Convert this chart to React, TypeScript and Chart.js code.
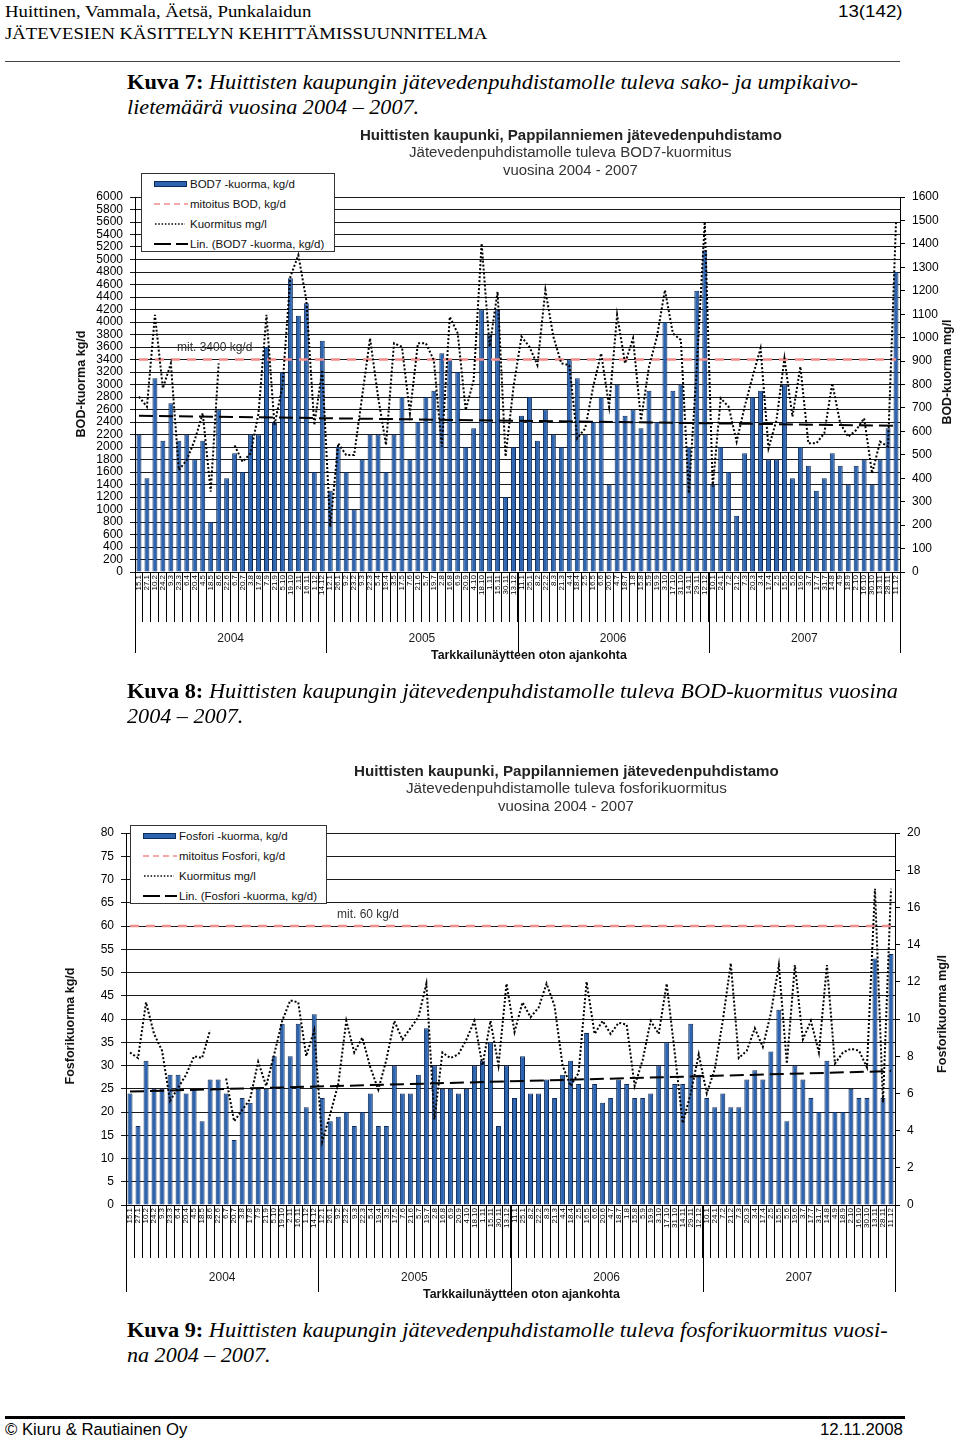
import React, { useEffect, useLayoutEffect, useRef } from 'react';
import { Chart, registerables } from 'chart.js';

Chart.register(...registerables);

// ---------------- data ----------------
const YEARS = ['2004', '2005', '2006', '2007'];
const SAMPLES_PER_YEAR = [24, 24, 24, 24];

const DATES_2004 = ['15.1', '27.1', '10.2', '24.2', '9.3', '23.3', '6.4', '20.4', '4.5', '18.5', '8.6', '22.6', '6.7', '20.7', '3.8', '17.8', '7.9', '21.9', '5.10', '19.10', '2.11', '16.11', '1.12', '14.12'];
const DATES_2005 = ['12.1', '26.1', '9.2', '23.2', '9.3', '22.3', '5.4', '19.4', '3.5', '17.5', '7.6', '21.6', '5.7', '19.7', '2.8', '16.8', '6.9', '20.9', '4.10', '18.10', '1.11', '15.11', '30.11', '13.12'];
const DATES_2006 = ['11.1', '25.1', '8.2', '22.2', '8.3', '21.3', '4.4', '18.4', '2.5', '16.5', '6.6', '20.6', '4.7', '18.7', '1.8', '15.8', '5.9', '19.9', '3.10', '17.10', '31.10', '14.11', '29.11', '12.12'];
const DATES_2007 = ['10.1', '24.1', '7.2', '21.2', '7.3', '20.3', '3.4', '17.4', '2.5', '15.5', '5.6', '19.6', '3.7', '17.7', '31.7', '14.8', '4.9', '18.9', '2.10', '16.10', '30.10', '13.11', '28.11', '11.12'];
const SAMPLE_DATES = [...DATES_2004, ...DATES_2005, ...DATES_2006, ...DATES_2007];

// BOD7 load kg/d
const BOD_LOAD = [
  2200, 1500, 3100, 2100, 2700, 2100, 2200, 1800, 2100, 800, 2600, 1500, 1900, 1600, 2200, 2200, 3600, 2400, 3200, 4700, 4100, 4300, 1600, 3700,
  1300, 2000, 1600, 1000, 1800, 2200, 2200, 1600, 2200, 2800, 1800, 2400, 2800, 2900, 3500, 3400, 3200, 2000, 2300, 4200, 3800, 4200, 1200, 2000,
  2500, 2800, 2100, 2600, 2200, 2000, 3400, 3100, 2200, 2400, 2800, 1400, 3000, 2500, 2600, 2300, 2900, 2400, 4000, 2900, 3000, 2000, 4500, 5150,
  1400, 2000, 1600, 900, 1900, 2800, 2900, 1800, 1800, 3000, 1500, 2000, 1700, 1300, 1500, 1900, 1700, 1400, 1700, 1800, 1400, 1800, 2300, 4800,
];
// BOD concentration mg/l
const BOD_CONC = [
  748, 705, 1097, 784, 890, 435, 478, 563, 677, 343, 890, null, 540, 470, 506, 677, 1097, 627, 791, 1260, 1352, 1160, 627, 862,
  193, 549, 499, 499, 748, 997, 748, 542, 976, 961, 677, 976, 976, 904, 535, 1089, 1018, 691, 819, 1402, 961, 1196, 492, 790,
  1004, 961, 883, 1203, 1004, 890, 883, 570, 613, 791, 933, 705, 1097, 890, 997, 648, 876, 1004, 1203, 1018, 990, 336, 876, 1495,
  364, 741, 705, 556, 705, 833, 954, 528, 648, 912, 663, 876, 549, 549, 592, 805, 634, 577, 606, 656, 421, 556, 535, 1495,
];
const BOD_LIMIT = 3400;
const BOD_TREND_START = 2500;
const BOD_TREND_END = 2340;

// Phosphorus load kg/d
const P_LOAD = [
  24, 17, 31, 25, 25, 28, 28, 24, 25, 18, 27, 27, 24, 14, 23, 22, 25, 25, 32, 39, 32, 39, 21, 41,
  23, 18, 19, 20, 17, 20, 24, 17, 17, 30, 24, 24, 28, 38, 30, 25, 25, 24, 25, 30, 31, 35, 17, 30,
  23, 32, 24, 24, 27, 23, 28, 31, 26, 37, 26, 22, 23, 27, 26, 23, 23, 24, 30, 35, 26, 26, 39, 28,
  23, 21, 24, 21, 21, 27, 29, 27, 33, 42, 18, 30, 27, 23, 20, 31, 20, 20, 25, 23, 23, 53, 23, 54,
];
// Phosphorus concentration mg/l
const P_CONC = [
  8.2, 7.9, 10.9, 9.2, 8.3, 5.6, 6.3, 7.0, 8.0, 7.9, 9.4, null, 6.8, 4.5, 5.1, 5.7, 7.7, 6.4, 8.1, 9.9, 11.0, 10.9, 8.0, 9.4,
  3.4, 4.9, 6.5, 9.9, 8.2, 9.0, 7.4, 6.2, 7.8, 9.9, 8.9, 9.5, 10.1, 11.9, 4.6, 8.2, 7.9, 8.1, 8.9, 9.9, 7.5, 9.9, 7.5, 11.9,
  9.3, 10.9, 10.1, 10.6, 11.9, 10.7, 7.5, 6.4, 7.1, 12.0, 9.2, 9.9, 9.2, 9.8, 9.7, 6.4, 7.8, 9.9, 9.2, 11.9, 8.2, 4.4, 6.0, 8.1,
  6.0, 7.3, 9.9, 13.0, 7.9, 8.3, 9.5, 8.5, 10.3, 12.9, 7.6, 12.9, 8.9, 9.9, 8.2, 12.9, 7.6, 8.2, 8.4, 8.3, 7.4, 17.0, 5.5, 17.0,
];
const P_LIMIT = 60;
const P_TREND_START = 24.4;
const P_TREND_END = 28.8;

// ---------------- styles ----------------
const SANS = '"Liberation Sans", Arial, sans-serif';
const SERIF = '"Liberation Serif", "Times New Roman", serif';
const CHART_FONT = 'Liberation Sans';
const BAR_FILL = '#2d64b0';
const BAR_EDGE = '#0e2b5a';
const LIMIT_COLOR = '#ef8c8c';
const GRID = '#1a1a1a';

// ---------------- plugin: year row + limit label ----------------
const yearAxisPlugin = {
  id: 'yearAxis',
  afterDraw(chart: any, _args: any, opts: any) {
    const { ctx, chartArea } = chart;
    const xs = chart.scales.x;
    const ys = chart.scales.y;
    const half = (xs.getPixelForValue(1) - xs.getPixelForValue(0)) / 2;
    const bottom = chartArea.bottom;
    ctx.save();
    ctx.strokeStyle = '#000';
    ctx.lineWidth = 1;
    const vline = (px: number) => {
      const xx = Math.round(px) + 0.5;
      ctx.beginPath();
      ctx.moveTo(xx, bottom);
      ctx.lineTo(xx, bottom + opts.lineLen);
      ctx.stroke();
    };
    ctx.font = `12px "${CHART_FONT}"`;
    ctx.fillStyle = '#1a1a1a';
    ctx.textAlign = 'center';
    ctx.textBaseline = 'middle';
    let idx = 0;
    vline(xs.getPixelForValue(0) - half);
    opts.years.forEach((yr: string, k: number) => {
      const start = idx;
      const end = idx + opts.counts[k] - 1;
      const x0 = xs.getPixelForValue(start) - half;
      const x1 = xs.getPixelForValue(end) + half;
      vline(x1);
      ctx.fillText(yr, (x0 + x1) / 2, bottom + opts.textOffset);
      idx += opts.counts[k];
    });
    ctx.textAlign = 'left';
    ctx.fillStyle = '#333';
    ctx.fillText(opts.limitText, chartArea.left + opts.limitDx, ys.getPixelForValue(opts.limitValue) - opts.limitDy);
    ctx.restore();
  },
};

type ChartParams = {
  load: number[];
  conc: (number | null)[];
  limit: number;
  trendStart: number;
  trendEnd: number;
  yMax: number;
  yStep: number;
  y2Max: number;
  y2Step: number;
  area: { left: number; right: number; top: number; bottom: number };
  canvasW: number;
  canvasH: number;
  catTick: number;
  yearLine: number;
  yearText: number;
  limitText: string;
  limitDx: number;
  limitDy: number;
  loadLabel: string;
  limitLabel: string;
  trendLabel: string;
};

function buildConfig(p: ChartParams): any {
  const labels = SAMPLE_DATES;
  const last = labels.length - 1;
  const trend = labels.map((_, i) => (i === 0 ? p.trendStart : i === last ? p.trendEnd : null));
  const limitLine = labels.map(() => p.limit);
  const tickFont = { family: CHART_FONT, size: 12 };
  return {
    type: 'bar',
    data: {
      labels,
      datasets: [
        { type: 'line', label: p.trendLabel, data: trend, yAxisID: 'y', borderColor: '#000', borderWidth: 2, borderDash: [14, 6], pointRadius: 0, spanGaps: true, order: 1 },
        { type: 'line', label: 'Kuormitus mg/l', data: p.conc, yAxisID: 'y2', borderColor: '#000', borderWidth: 2, borderDash: [2, 2], pointRadius: 0, spanGaps: false, tension: 0, order: 2 },
        { type: 'line', label: p.limitLabel, data: limitLine, yAxisID: 'y', borderColor: LIMIT_COLOR, borderWidth: 2.5, borderDash: [9, 7], pointRadius: 0, order: 3 },
        { type: 'bar', label: p.loadLabel, data: p.load, yAxisID: 'y', backgroundColor: BAR_FILL, borderColor: BAR_EDGE, borderWidth: 1, categoryPercentage: 1, barPercentage: 0.62, order: 4 },
      ],
    },
    options: {
      responsive: false,
      animation: false,
      layout: { padding: { top: p.area.top, left: 0, right: 0, bottom: 0 } },
      plugins: {
        legend: { display: false },
        tooltip: { enabled: false },
        yearAxis: {
          years: YEARS,
          counts: SAMPLES_PER_YEAR,
          lineLen: p.yearLine,
          textOffset: p.yearText,
          limitText: p.limitText,
          limitValue: p.limit,
          limitDx: p.limitDx,
          limitDy: p.limitDy,
        },
      },
      scales: {
        x: {
          type: 'category',
          offset: true,
          grid: { offset: true, drawOnChartArea: false, color: '#000', tickLength: p.catTick, lineWidth: 1 },
          border: { color: '#000' },
          ticks: {
            autoSkip: false,
            minRotation: 90,
            maxRotation: 90,
            padding: 3 - p.catTick,
            font: { family: CHART_FONT, size: 8 },
            color: '#000',
          },
          afterFit: (s: any) => {
            s.height = p.canvasH - p.area.bottom;
          },
        },
        y: {
          position: 'left',
          min: 0,
          max: p.yMax,
          ticks: { stepSize: p.yStep, autoSkip: false, maxTicksLimit: 200, padding: 7, font: tickFont, color: '#000', callback: (v: any) => String(v) },
          grid: { color: GRID, tickLength: 5, lineWidth: 1 },
          border: { color: '#000' },
          afterFit: (s: any) => {
            s.width = p.area.left;
          },
        },
        y2: {
          position: 'right',
          min: 0,
          max: p.y2Max,
          ticks: { stepSize: p.y2Step, autoSkip: false, maxTicksLimit: 200, padding: 7, font: tickFont, color: '#000', callback: (v: any) => String(v) },
          grid: { drawOnChartArea: false, color: '#000', tickLength: 5 },
          border: { color: '#000' },
          afterFit: (s: any) => {
            s.width = p.canvasW - p.area.right;
          },
        },
      },
    },
    plugins: [yearAxisPlugin],
  };
}

// ---------------- components ----------------
function ChartCanvas({ top, height, params }: { top: number; height: number; params: ChartParams }) {
  const ref = useRef<HTMLCanvasElement>(null);
  useEffect(() => {
    const chart = new Chart(ref.current as HTMLCanvasElement, buildConfig(params));
    return () => chart.destroy();
  }, []);
  return (
    <canvas
      ref={ref}
      width={960}
      height={height}
      style={{ position: 'absolute', left: 0, top, width: 960, height, display: 'block' }}
    />
  );
}

type FitProps = {
  x0: number;
  x1: number;
  cy: number;
  size: number;
  family: string;
  weight?: string | number;
  italic?: boolean;
  color?: string;
  children: React.ReactNode;
};

function FitText({ x0, x1, cy, size, family, weight, italic, color, children }: FitProps) {
  const lh = Math.round(size * 1.3);
  return (
    <span
      data-fit={x1 - x0}
      style={{
        position: 'absolute',
        left: x0,
        top: cy - lh / 2,
        height: lh,
        lineHeight: lh + 'px',
        fontSize: size,
        fontFamily: family,
        fontWeight: weight ?? 'normal',
        fontStyle: italic ? 'italic' : 'normal',
        color: color ?? '#000',
        whiteSpace: 'nowrap',
        transformOrigin: '0 50%',
        display: 'inline-block',
      }}
    >
      {children}
    </span>
  );
}

function VText({ cx, cy, len, size, children }: { cx: number; cy: number; len: number; size: number; children: React.ReactNode }) {
  return (
    <div
      style={{
        position: 'absolute',
        left: cx,
        top: cy,
        transform: 'translate(-50%, -50%) rotate(-90deg)',
        whiteSpace: 'nowrap',
      }}
    >
      <span
        data-fit={len}
        style={{
          display: 'inline-block',
          fontFamily: SANS,
          fontWeight: 'bold',
          fontSize: size,
          lineHeight: '1.2',
          color: '#111',
          transformOrigin: '50% 50%',
        }}
      >
        {children}
      </span>
    </div>
  );
}

type LegendKind = 'bar' | 'limit' | 'conc' | 'trend';

function Swatch({ kind }: { kind: LegendKind }) {
  const common = { width: 36, height: 10, style: { position: 'absolute' as const, left: 0, top: -5 } };
  if (kind === 'bar')
    return (
      <svg {...common}>
        <rect x={1.5} y={2.5} width={32} height={5} fill={BAR_FILL} stroke={BAR_EDGE} strokeWidth={1} />
      </svg>
    );
  if (kind === 'limit')
    return (
      <svg {...common}>
        <line x1={1} y1={5} x2={35} y2={5} stroke={LIMIT_COLOR} strokeWidth={1.5} strokeDasharray="6 4" />
      </svg>
    );
  if (kind === 'conc')
    return (
      <svg {...common}>
        <line x1={2} y1={5} x2={32} y2={5} stroke="#000" strokeWidth={1.5} strokeDasharray="1.5 1.8" />
      </svg>
    );
  return (
    <svg {...common}>
      <line x1={1} y1={5} x2={35} y2={5} stroke="#000" strokeWidth={2} strokeDasharray="17 5" />
    </svg>
  );
}

function Legend({ left, top, width, height, items }: { left: number; top: number; width: number; height: number; items: { kind: LegendKind; text: string }[] }) {
  return (
    <div
      style={{
        position: 'absolute',
        left,
        top,
        width,
        height,
        boxSizing: 'border-box',
        border: '1px solid #333',
        background: '#fff',
      }}
    >
      {items.map((it, i) => (
        <div key={i} style={{ position: 'absolute', left: 11, top: 10 + i * 20, height: 0 }}>
          <Swatch kind={it.kind} />
          <span
            style={{
              position: 'absolute',
              left: 37,
              top: -8,
              lineHeight: '16px',
              fontFamily: SANS,
              fontSize: 11.5,
              color: '#111',
              whiteSpace: 'nowrap',
            }}
          >
            {it.text}
          </span>
        </div>
      ))}
    </div>
  );
}

const BOD_PARAMS: ChartParams = {
  load: BOD_LOAD,
  conc: BOD_CONC,
  limit: BOD_LIMIT,
  trendStart: BOD_TREND_START,
  trendEnd: BOD_TREND_END,
  yMax: 6000,
  yStep: 200,
  y2Max: 1600,
  y2Step: 100,
  area: { left: 135, right: 900, top: 77, bottom: 452 },
  canvasW: 960,
  canvasH: 560,
  catTick: 50,
  yearLine: 81,
  yearText: 67,
  limitText: 'mit. 3400 kg/d',
  limitDx: 42,
  limitDy: 12,
  loadLabel: 'BOD7 -kuorma, kg/d',
  limitLabel: 'mitoitus BOD, kg/d',
  trendLabel: 'Lin. (BOD7 -kuorma, kg/d)',
};

const P_PARAMS: ChartParams = {
  load: P_LOAD,
  conc: P_CONC,
  limit: P_LIMIT,
  trendStart: P_TREND_START,
  trendEnd: P_TREND_END,
  yMax: 80,
  yStep: 5,
  y2Max: 20,
  y2Step: 2,
  area: { left: 126, right: 895, top: 83, bottom: 455 },
  canvasW: 960,
  canvasH: 560,
  catTick: 53,
  yearLine: 87,
  yearText: 73,
  limitText: 'mit. 60 kg/d',
  limitDx: 211,
  limitDy: 11,
  loadLabel: 'Fosfori -kuorma, kg/d',
  limitLabel: 'mitoitus Fosfori, kg/d',
  trendLabel: 'Lin. (Fosfori -kuorma, kg/d)',
};

export default function App() {
  useLayoutEffect(() => {
    const fit = () => {
      document.querySelectorAll<HTMLElement>('[data-fit]').forEach((el) => {
        const target = Number(el.dataset.fit);
        el.style.transform = 'none';
        const natural = el.scrollWidth;
        if (natural > 0) el.style.transform = `scaleX(${target / natural})`;
      });
    };
    fit();
    if ((document as any).fonts && (document as any).fonts.ready) {
      (document as any).fonts.ready.then(fit);
    }
  }, []);

  return (
    <div style={{ position: 'absolute', left: 0, top: 0, width: 960, height: 1443, background: '#fff', overflow: 'hidden' }}>
      {/* header */}
      <FitText x0={5} x1={311} cy={12} size={17} family={SERIF}>Huittinen, Vammala, Äetsä, Punkalaidun</FitText>
      <FitText x0={838} x1={903} cy={12} size={17} family={SANS}>13(142)</FitText>
      <FitText x0={5} x1={487} cy={34} size={17} family={SERIF}>JÄTEVESIEN KÄSITTELYN KEHITTÄMISSUUNNITELMA</FitText>
      <div style={{ position: 'absolute', left: 5, top: 61, width: 895, height: 1, background: '#444' }} />

      {/* caption 7 */}
      <FitText x0={127} x1={858} cy={82} size={21} family={SERIF}>
        <b>Kuva 7:</b>
        <i> Huittisten kaupungin jätevedenpuhdistamolle tuleva sako- ja umpikaivo-</i>
      </FitText>
      <FitText x0={127} x1={419} cy={107} size={21} family={SERIF} italic>
        lietemäärä vuosina 2004 – 2007.
      </FitText>

      {/* chart 1 */}
      <ChartCanvas top={120} height={560} params={BOD_PARAMS} />
      <FitText x0={360} x1={782} cy={135} size={14} family={SANS} weight="bold" color="#222">
        Huittisten kaupunki, Pappilanniemen jätevedenpuhdistamo
      </FitText>
      <FitText x0={409} x1={732} cy={152} size={14} family={SANS} color="#333">
        Jätevedenpuhdistamolle tuleva BOD7-kuormitus
      </FitText>
      <FitText x0={503} x1={638} cy={170} size={14} family={SANS} color="#333">
        vuosina 2004 - 2007
      </FitText>
      <VText cx={80} cy={384} len={107} size={12}>BOD-kuorma kg/d</VText>
      <VText cx={946} cy={372} len={105} size={12}>BOD-kuorma mg/l</VText>
      <FitText x0={431} x1={627} cy={655} size={12} family={SANS} weight="bold" color="#111">
        Tarkkailunäytteen oton ajankohta
      </FitText>
      <Legend
        left={141}
        top={173}
        width={194}
        height={79}
        items={[
          { kind: 'bar', text: BOD_PARAMS.loadLabel },
          { kind: 'limit', text: BOD_PARAMS.limitLabel },
          { kind: 'conc', text: 'Kuormitus mg/l' },
          { kind: 'trend', text: BOD_PARAMS.trendLabel },
        ]}
      />

      {/* caption 8 */}
      <FitText x0={127} x1={898} cy={691} size={21} family={SERIF}>
        <b>Kuva 8:</b>
        <i> Huittisten kaupungin jätevedenpuhdistamolle tuleva BOD-kuormitus vuosina</i>
      </FitText>
      <FitText x0={127} x1={243} cy={716} size={21} family={SERIF} italic>
        2004 – 2007.
      </FitText>

      {/* chart 2 */}
      <ChartCanvas top={750} height={560} params={P_PARAMS} />
      <FitText x0={354} x1={779} cy={771} size={14} family={SANS} weight="bold" color="#222">
        Huittisten kaupunki, Pappilanniemen jätevedenpuhdistamo
      </FitText>
      <FitText x0={406} x1={727} cy={788} size={14} family={SANS} color="#333">
        Jätevedenpuhdistamolle tuleva fosforikuormitus
      </FitText>
      <FitText x0={498} x1={634} cy={806} size={14} family={SANS} color="#333">
        vuosina 2004 - 2007
      </FitText>
      <VText cx={69} cy={1026} len={117} size={12}>Fosforikuorma kg/d</VText>
      <VText cx={941} cy={1014} len={118} size={12}>Fosforikuorma mg/l</VText>
      <FitText x0={423} x1={620} cy={1294} size={12} family={SANS} weight="bold" color="#111">
        Tarkkailunäytteen oton ajankohta
      </FitText>
      <Legend
        left={130}
        top={825}
        width={197}
        height={79}
        items={[
          { kind: 'bar', text: P_PARAMS.loadLabel },
          { kind: 'limit', text: P_PARAMS.limitLabel },
          { kind: 'conc', text: 'Kuormitus mg/l' },
          { kind: 'trend', text: P_PARAMS.trendLabel },
        ]}
      />

      {/* caption 9 */}
      <FitText x0={127} x1={888} cy={1330} size={21} family={SERIF}>
        <b>Kuva 9:</b>
        <i> Huittisten kaupungin jätevedenpuhdistamolle tuleva fosforikuormitus vuosi-</i>
      </FitText>
      <FitText x0={127} x1={271} cy={1355} size={21} family={SERIF} italic>
        na 2004 – 2007.
      </FitText>

      {/* footer */}
      <div style={{ position: 'absolute', left: 5, top: 1416, width: 900, height: 3, background: '#000' }} />
      <FitText x0={5} x1={187} cy={1430} size={17} family={SANS}>© Kiuru &amp; Rautiainen Oy</FitText>
      <FitText x0={820} x1={903} cy={1430} size={17} family={SANS}>12.11.2008</FitText>
    </div>
  );
}
